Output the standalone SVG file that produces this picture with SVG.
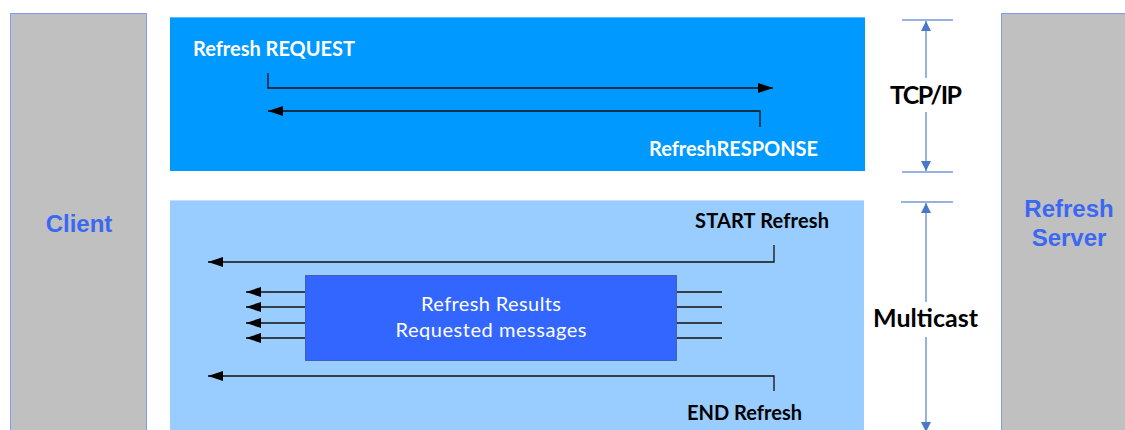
<svg xmlns="http://www.w3.org/2000/svg" width="1125" height="430" viewBox="0 0 1125 430">
  <style>
    .endpoint { fill: #c0c0c0; stroke: #7f9cf5; stroke-width: 1; }
    .endlabel { font-family: "Liberation Sans", Arial, sans-serif; font-weight: bold; font-size: 24px; fill: #3a68f2; text-anchor: middle; }
    .lbl { font-family: Lato, "Open Sans", sans-serif; font-weight: bold; font-size: 20px; }
    .big { font-size: 25px; text-anchor: middle; }
    .white { fill: #ffffff; }
    .black { fill: #000000; }
    .msg { fill: none; stroke: #111111; stroke-width: 1.3; }
    .dim { fill: none; stroke: #7597d6; stroke-width: 1.5; }
    .res { font-family: Lato, "Open Sans", sans-serif; font-size: 20px; fill: #ffffff; text-anchor: middle; }
  </style>
  <defs>
    <marker id="head" markerWidth="15" markerHeight="10" refX="15" refY="5" orient="auto" markerUnits="userSpaceOnUse">
      <path d="M0,0 L15,5 L0,10 Z" fill="#000000"/>
    </marker>
    <marker id="dimhead" markerWidth="10" markerHeight="10" refX="10" refY="5" orient="auto" markerUnits="userSpaceOnUse">
      <path d="M0,0 L10,5 L0,10 Z" fill="#4a78c8"/>
    </marker>
  </defs>

  <rect width="1125" height="430" fill="#ffffff"/>

  <!-- channel bands -->
  <g id="tcp-band">
    <rect x="170" y="17" width="695" height="154" fill="#0099ff"/>
    <line x1="170" y1="17.5" x2="865" y2="17.5" stroke="#5ab8ff" stroke-width="1"/>
  </g>
  <g id="multicast-band">
    <rect x="170" y="200" width="694" height="235" fill="#99ccff"/>
    <line x1="170" y1="200.5" x2="864" y2="200.5" stroke="#c4e0ff" stroke-width="1"/>
  </g>

  <!-- end points -->
  <g id="client">
    <rect class="endpoint" x="10.5" y="13.5" width="136" height="430"/>
    <text class="endlabel" x="79" y="232">Client</text>
  </g>
  <g id="refresh-server">
    <rect class="endpoint" x="1001.5" y="13.5" width="140" height="430"/>
    <text class="endlabel" x="1069" y="217">Refresh</text>
    <text class="endlabel" x="1069" y="246">Server</text>
  </g>

  <!-- message labels -->
  <g id="refresh-request">
    <text class="lbl white" x="193" y="56" textLength="162">Refresh REQUEST</text>
  </g>
  <g id="refresh-response">
    <text class="lbl white" x="649" y="156" textLength="169">RefreshRESPONSE</text>
  </g>
  <g id="start-refresh">
    <text class="lbl black" x="695" y="228" textLength="134">START Refresh</text>
  </g>
  <g id="end-refresh">
    <text class="lbl black" x="687" y="420" textLength="115">END Refresh</text>
  </g>

  <!-- refresh results block -->
  <g id="refresh-results">
    <rect x="305.5" y="275.5" width="371" height="85" fill="#3366ff" stroke="#1a2a66" stroke-width="1" stroke-dasharray="1 1"/>
    <text class="res" x="491" y="311" textLength="140">Refresh Results</text>
    <text class="res" x="491" y="337" textLength="191">Requested messages</text>
  </g>

  <!-- protocol dimension labels -->
  <g id="tcpip">
    <text class="lbl big black" x="926" y="104" textLength="72">TCP/IP</text>
  </g>
  <g id="multicast">
    <text class="lbl big black" x="925.5" y="327" textLength="105">Multicast</text>
  </g>

  <!-- connectors -->
  <g id="connectors">
    <!-- TCP request / response -->
    <path class="msg" d="M268,73 V88 H773" marker-end="url(#head)"/>
    <path class="msg" d="M760,127 V111 H268" marker-end="url(#head)"/>

    <!-- multicast start / end -->
    <path class="msg" d="M774,245 V262 H208" marker-end="url(#head)"/>
    <path class="msg" d="M774,391 V376 H208" stroke="#2a3440" marker-end="url(#head)"/>

    <!-- result messages out of the block -->
    <path class="msg" d="M305,292 H246" stroke="#2a3440" marker-end="url(#head)"/>
    <path class="msg" d="M305,307 H246" stroke="#2a3440" marker-end="url(#head)"/>
    <path class="msg" d="M305,323 H246" stroke="#2a3440" marker-end="url(#head)"/>
    <path class="msg" d="M305,338 H246" stroke="#2a3440" marker-end="url(#head)"/>
    <path class="msg" d="M677,292 H722 M677,307 H722 M677,323 H722 M677,338 H722" stroke="#2a3440"/>

    <!-- TCP/IP extent -->
    <line class="dim" x1="902" y1="20" x2="953" y2="20"/>
    <line class="dim" x1="902" y1="172" x2="953" y2="172"/>
    <line class="dim" x1="926" y1="78" x2="926" y2="21" marker-end="url(#dimhead)"/>
    <line class="dim" x1="926" y1="112" x2="926" y2="171" marker-end="url(#dimhead)"/>

    <!-- multicast extent -->
    <line class="dim" x1="901" y1="202" x2="953" y2="202"/>
    <line class="dim" x1="926" y1="302" x2="926" y2="203" marker-end="url(#dimhead)"/>
    <line class="dim" x1="926" y1="337" x2="926" y2="432" marker-end="url(#dimhead)"/>
  </g>
</svg>
